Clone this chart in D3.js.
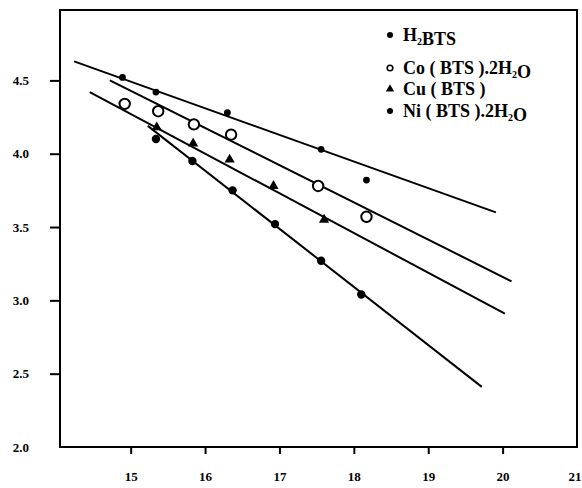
<!DOCTYPE html>
<html>
<head>
<meta charset="utf-8">
<script src="https://cdn.jsdelivr.net/npm/d3@7"></script>
<style>
  body { margin: 0; background: #fff; }
  svg { display: block; }
  .tick text { font-family: "Liberation Serif", serif; font-weight: bold; font-size: 13px; fill: #000; }
  .legend text { font-family: "Liberation Serif", serif; font-size: 18px; font-weight: bold; fill: #000; }
</style>
</head>
<body>
<div id="chart"></div>
<script>
// Data (x, y pairs)
const h2btsX = [14.89, 15.34, 16.30, 17.56, 18.17];
const h2btsY = [4.52, 4.42, 4.28, 4.03, 3.82];
const coX = [14.92, 15.37, 15.85, 16.35, 17.52, 18.17];
const coY = [4.34, 4.29, 4.20, 4.13, 3.78, 3.57];
const cuX = [15.35, 15.84, 16.33, 16.92, 17.60];
const cuY = [4.18, 4.07, 3.96, 3.78, 3.55];
const niX = [15.34, 15.83, 16.37, 16.94, 17.56, 18.10];
const niY = [4.10, 3.95, 3.75, 3.52, 3.27, 3.04];

// fitted straight lines: [x start, x end], [y start, y end]
const h2btsFitX = [14.24, 19.91], h2btsFitY = [4.63, 3.60];
const coFitX = [14.72, 20.12], coFitY = [4.50, 3.13];
const cuFitX = [14.45, 20.03], cuFitY = [4.42, 2.91];
const niFitX = [15.23, 19.72], niFitY = [4.19, 2.41];

const xTicks = [15, 16, 17, 18, 19, 20, 21];
const yTicks = [2.0, 2.5, 3.0, 3.5, 4.0, 4.5];

const legendLabels = ["H₂BTS", "Co ( BTS ).2H₂O", "Cu ( BTS )", "Ni ( BTS ).2H₂O"];

const width = 582, height = 488;
const svg = d3.select("#chart").append("svg")
  .attr("width", width)
  .attr("height", height);

const x = d3.scaleLinear().domain([14.05, 21]).range([60, 577]);
const y = d3.scaleLinear().domain([2, 4.98]).range([447, 10]);

// frame
svg.append("rect")
  .attr("x", x.range()[0]).attr("y", y.range()[1])
  .attr("width", x.range()[1] - x.range()[0])
  .attr("height", y.range()[0] - y.range()[1])
  .attr("fill", "none").attr("stroke", "#000").attr("stroke-width", 2);

// axes
const yAxis = svg.append("g")
  .attr("transform", `translate(${x.range()[0]},0)`)
  .call(d3.axisLeft(y).tickValues(yTicks).tickFormat(d3.format(".1f"))
    .tickSize(10).tickPadding(21));
yAxis.select(".domain").remove();
yAxis.selectAll(".tick line").attr("stroke-width", 2)
  .filter(d => d === 2.0).remove();

const xAxis = svg.append("g")
  .attr("transform", `translate(0,${y.range()[0]})`)
  .call(d3.axisBottom(x).tickValues(xTicks).tickFormat(d3.format("d"))
    .tickSize(7).tickPadding(18));
xAxis.select(".domain").remove();
xAxis.selectAll(".tick line").attr("stroke-width", 2)
  .filter(d => d === 21).remove();
// last label sits at the right edge, keep it inside the page
xAxis.selectAll(".tick text").filter(d => d === 21)
  .attr("text-anchor", "end").attr("dx", 4);

// fitted lines
const fits = [
  [h2btsFitX, h2btsFitY],
  [coFitX, coFitY],
  [cuFitX, cuFitY],
  [niFitX, niFitY]
];
const line = d3.line().x(d => x(d[0])).y(d => y(d[1]));
fits.forEach(([fx, fy]) => {
  svg.append("path")
    .attr("d", line(d3.zip(fx, fy)))
    .attr("fill", "none")
    .attr("stroke", "#000")
    .attr("stroke-width", 2);
});

// points
svg.append("g").selectAll("circle")
  .data(d3.zip(h2btsX, h2btsY))
  .join("circle")
  .attr("cx", d => x(d[0])).attr("cy", d => y(d[1]))
  .attr("r", 3.4).attr("fill", "#000");

svg.append("g").selectAll("circle")
  .data(d3.zip(coX, coY))
  .join("circle")
  .attr("cx", d => x(d[0])).attr("cy", d => y(d[1]))
  .attr("r", 5.2).attr("fill", "#fff")
  .attr("stroke", "#000").attr("stroke-width", 2);

const tri = d3.symbol().type(d3.symbolTriangle).size(45);
svg.append("g").selectAll("path")
  .data(d3.zip(cuX, cuY))
  .join("path")
  .attr("d", tri)
  .attr("transform", d => `translate(${x(d[0])},${y(d[1])})`)
  .attr("fill", "#000");

svg.append("g").selectAll("circle")
  .data(d3.zip(niX, niY))
  .join("circle")
  .attr("cx", d => x(d[0])).attr("cy", d => y(d[1]))
  .attr("r", 4.2).attr("fill", "#000");

// legend
const legendY = [35, 68, 89, 111];
const legend = svg.append("g").attr("class", "legend");
legendLabels.forEach((label, i) => {
  const g = legend.append("g").attr("transform", `translate(390,${legendY[i]})`);
  if (i === 2) {
    g.append("path").attr("d", d3.symbol().type(d3.symbolTriangle).size(30)).attr("fill", "#000");
  } else if (i === 1) {
    g.append("circle").attr("r", 2.8).attr("fill", "#fff").attr("stroke", "#000").attr("stroke-width", 1.6);
  } else {
    g.append("circle").attr("r", 3).attr("fill", "#000");
  }
  const t = g.append("text").attr("x", 13).attr("y", 6);
  // split subscripts (₂) into tspans
  label.split(/(₂)/).forEach(part => {
    if (part === "₂") {
      t.append("tspan").attr("font-size", "10px").attr("dy", 4).text("2");
      t.append("tspan").attr("dy", -4).text("");
    } else if (part) {
      t.append("tspan").text(part);
    }
  });
});
</script>
</body>
</html>
